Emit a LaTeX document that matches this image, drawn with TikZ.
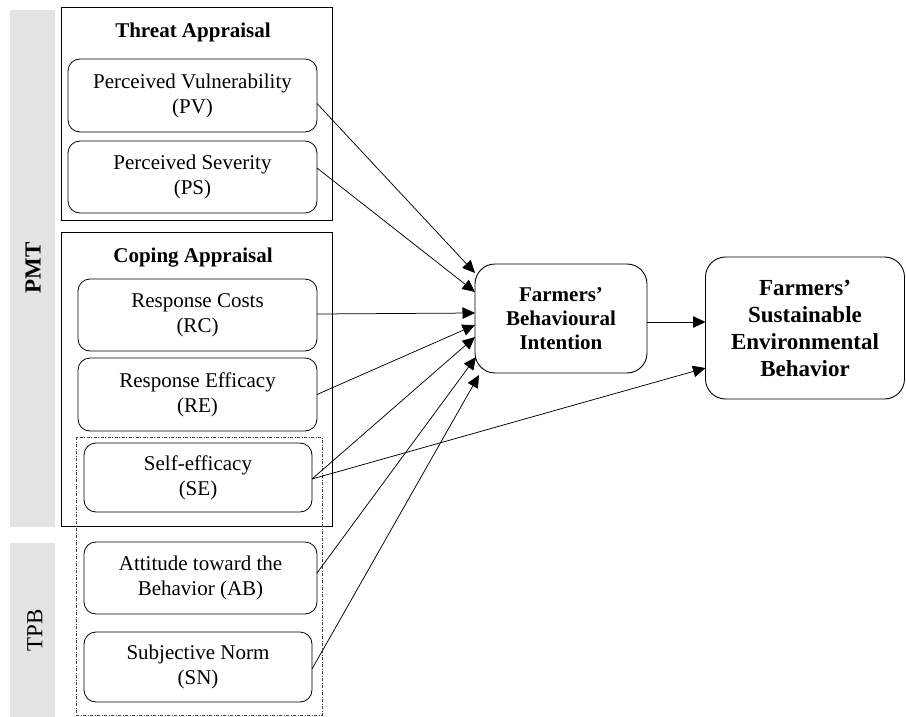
\documentclass[tikz,border=0pt]{standalone}
\usepackage{fontspec}
\setmainfont{Liberation Serif}
\usetikzlibrary{arrows.meta,calc}
\begin{document}
\begin{tikzpicture}[x=1pt,y=-1pt,
  every node/.style={inner sep=0pt, outer sep=0pt},
  band/.style={fill=black!11, draw=none, rectangle},
  bandlabel/.style={rotate=90, font=\fontsize{23}{27}\selectfont},
  group/.style={draw, line width=0.8pt, rectangle},
  header/.style={font=\bfseries\fontsize{21}{25}\selectfont},
  item/.style={draw, line width=0.8pt, rounded corners=12pt, align=center,
    font=\fontsize{21}{25}\selectfont},
  outcome/.style={draw, line width=0.9pt, rounded corners=20pt, align=center},
  tpbgroup/.style={draw=black!75, line width=0.6pt,
    dash pattern=on 3pt off 1.5pt on 1pt off 1.5pt},
  link/.style={line width=0.75pt, -{Triangle[length=12.5pt,width=11.5pt]}}
]
\useasboundingbox (0,0) rectangle (906,717);

% side bands with theory labels
\node[band, minimum width=45pt, minimum height=517pt] (pmtband) at (32.5,268.5) {};
\node[band, minimum width=45pt, minimum height=177pt] (tpbband) at (32.5,631.5) {};
\node[bandlabel, font=\bfseries\fontsize{23}{27}\selectfont] (pmt) at (33,268) {PMT};
\node[bandlabel] (tpb) at (35,630) {TPB};

% PMT groups
\node[group, minimum width=271pt, minimum height=213pt] (threat) at (196.5,113.5) {};
\node[header] (threatlbl) at (193,32) {Threat Appraisal};
\node[group, minimum width=271pt, minimum height=294pt] (coping) at (196.5,379) {};
\node[header] (copinglbl) at (193,258) {Coping Appraisal};

% TPB group (dash-dot frame)
\node[tpbgroup, minimum width=246pt, minimum height=278pt] (tpbframe) at (199,576) {};

% constructs
\node[item, minimum width=249pt, minimum height=73pt] (pv) at (192.5,95.5) {Perceived Vulnerability\\(PV)};
\node[item, minimum width=249pt, minimum height=72pt] (ps) at (192.5,177) {Perceived Severity\\(PS)};
\node[item, minimum width=239pt, minimum height=72pt] (rc) at (197.5,315) {Response Costs\\(RC)};
\node[item, minimum width=239pt, minimum height=73pt] (re) at (197.5,394.5) {Response Efficacy\\(RE)};
\node[item, minimum width=228pt, minimum height=69pt] (se) at (198,477.5) {Self-efficacy\\(SE)};
\node[item, minimum width=233pt, minimum height=72pt] (ab) at (200.5,578) {Attitude toward the\\Behavior (AB)};
\node[item, minimum width=228pt, minimum height=70pt] (sn) at (198,667) {Subjective Norm\\(SN)};

% outcomes
\node[outcome, minimum width=172pt, minimum height=109pt,
  font=\bfseries\fontsize{21}{24}\selectfont] (fbi) at (561,318.5)
  {Farmers'\\Behavioural\\Intention};
\node[outcome, minimum width=199pt, minimum height=142pt,
  font=\bfseries\fontsize{23}{27}\selectfont] (fseb) at (805,328)
  {Farmers'\\Sustainable\\Environmental\\Behavior};

% paths
\draw[link] ($(pv.east)+(0,8)$)  -- ($(fbi.west)+(0,-45.5)$);
\draw[link] ($(ps.east)+(0,-9)$) -- ($(fbi.west)+(0,-26.5)$);
\draw[link] ($(rc.east)+(0,-1)$) -- ($(fbi.west)+(0,-5.5)$);
\draw[link] (re.east)            -- ($(fbi.west)+(0,6.5)$);
\draw[link] ($(se.east)+(0,1.5)$) -- ($(fbi.west)+(0,18.5)$);
\draw[link] ($(se.east)+(0,1.5)$) -- ($(fseb.west)+(0,40)$);
\draw[link] ($(ab.east)+(0,-5)$) -- ($(fbi.west)+(1,38.5)$);
\draw[link] ($(sn.east)+(0,2)$)  -- ($(fbi.west)+(4,56.5)$);
\draw[link] ($(fbi.east)+(0,3.5)$) -- ($(fseb.west)+(0,-6)$);
\end{tikzpicture}
\end{document}
